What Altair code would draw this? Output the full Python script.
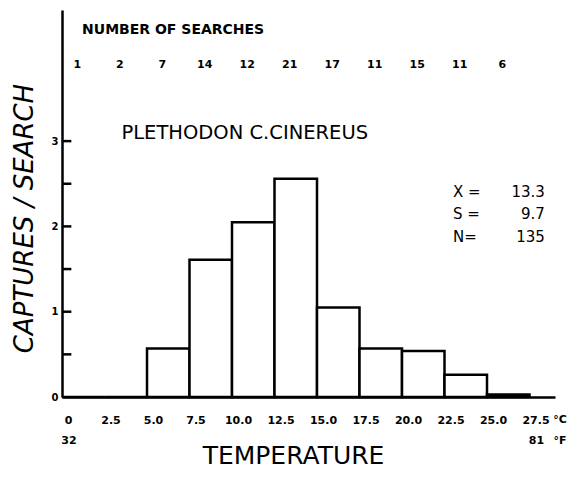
import altair as alt
import pandas as pd

# ---- data ----
bin_lo = [0.0, 2.5, 5.0, 7.5, 10.0, 12.5, 15.0, 17.5, 20.0, 22.5, 25.0]
bin_hi = [2.5, 5.0, 7.5, 10.0, 12.5, 15.0, 17.5, 20.0, 22.5, 25.0, 27.5]
captures_per_search = [0.0, 0.0, 0.57, 1.61, 2.05, 2.56, 1.05, 0.57, 0.54, 0.26, 0.03]
searches = [1, 2, 7, 14, 12, 21, 17, 11, 15, 11, 6]

x_ticks = [0.0, 2.5, 5.0, 7.5, 10.0, 12.5, 15.0, 17.5, 20.0, 22.5, 25.0, 27.5]
y_labels = [0, 1, 2, 3]
y_minor = [0.5, 1.0, 1.5, 2.0, 2.5, 3.0]

f_vals = [0.0, 27.5]
f_text = ["32", "81"]

stat_names = ["X =", "S =", "N="]
stat_vals = ["13.3", "9.7", "135"]

species = "PLETHODON C.CINEREUS"
searches_title = "NUMBER OF SEARCHES"

FONT = "DejaVu Sans"
X_DOMAIN = [0, 29.0]
Y_DOMAIN = [0, 4.537]

bars = pd.DataFrame({"lo": bin_lo, "hi": bin_hi, "v": captures_per_search,
                     "base": [0.0] * len(bin_lo)})
bars["mid"] = (bars["lo"] + bars["hi"]) / 2
bars["n"] = [str(s) for s in searches]

xs = alt.Scale(domain=X_DOMAIN, nice=False, zero=False)
ys = alt.Scale(domain=Y_DOMAIN, nice=False, zero=False)

x_axis = alt.Axis(
    values=x_ticks,
    labelExpr="datum.value == 0 ? '0' : format(datum.value, '.1f')",
    grid=False, ticks=False, tickSize=0,
    domainColor="black", domainWidth=2.5,
    labelFont=FONT, labelFontSize=11, labelFontWeight="bold", labelColor="black",
    labelBaseline="top", labelPadding=17, labelOffset=6, labelFlush=False,
    labelOverlap=False,
    title="TEMPERATURE", titleFont=FONT, titleFontSize=25, titleFontWeight="normal",
    titleColor="black", titleX=231, titleY=66, titleAlign="center",
    titleBaseline="alphabetic", titleAnchor="start",
)
y_axis = alt.Axis(
    values=y_labels, format="d",
    grid=False, ticks=False, tickSize=0,
    domainColor="black", domainWidth=2.5,
    labelFont=FONT, labelFontSize=10, labelFontWeight="bold", labelColor="black",
    labelPadding=4, labelBaseline="middle",
    title="CAPTURES / SEARCH", titleFont=FONT, titleFontSize=26,
    titleFontStyle="italic", titleFontWeight="normal", titleColor="black",
    titleX=-30, titleY=208, titleAlign="center", titleAngle=-90,
    titleBaseline="alphabetic", titleAnchor="start",
)

rect = alt.Chart(bars).mark_rect(fill="white", stroke="black", strokeWidth=2.5).encode(
    x=alt.X("lo:Q", scale=xs, axis=x_axis),
    x2="hi:Q",
    y=alt.Y("v:Q", scale=ys, axis=y_axis),
    y2="base:Q",
)

ticks_df = pd.DataFrame({"y": y_minor, "x0": [0.0] * len(y_minor), "x1": [0.55] * len(y_minor)})
yticks = alt.Chart(ticks_df).mark_rule(color="black", strokeWidth=2.5).encode(
    x=alt.X("x0:Q", scale=xs), x2="x1:Q", y=alt.Y("y:Q", scale=ys)
)

counts = alt.Chart(bars).mark_text(
    font=FONT, fontSize=11, fontWeight="bold", color="black", dx=-6, baseline="middle"
).encode(
    x=alt.X("mid:Q", scale=xs), y=alt.datum(3.89, scale=ys), text="n:N"
)

top_title = alt.Chart(pd.DataFrame({"t": [searches_title]})).mark_text(
    font=FONT, fontSize=14, fontWeight="bold", color="black", align="left", baseline="middle"
).encode(x=alt.datum(1.18, scale=xs), y=alt.datum(4.30, scale=ys), text="t:N")

species_title = alt.Chart(pd.DataFrame({"t": [species]})).mark_text(
    font=FONT, fontSize=19.5, color="black", align="center", baseline="middle"
).encode(x=alt.datum(10.75, scale=xs), y=alt.datum(3.10, scale=ys), text="t:N")

stats = pd.DataFrame({"name": stat_names, "val": stat_vals})
stats["y"] = [2.40, 2.15, 1.87]
stat_lbl = alt.Chart(stats).mark_text(
    font=FONT, fontSize=15, color="black", align="left", baseline="middle"
).encode(x=alt.datum(23.0, scale=xs), y=alt.Y("y:Q", scale=ys), text="name:N")
stat_val = alt.Chart(stats).mark_text(
    font=FONT, fontSize=15, color="black", align="right", baseline="middle"
).encode(x=alt.datum(28.4, scale=xs), y=alt.Y("y:Q", scale=ys), text="val:N")

fdf = pd.DataFrame({"x": f_vals, "t": f_text})
f_lbl = alt.Chart(fdf).mark_text(
    font=FONT, fontSize=11, fontWeight="bold", color="black", dx=7, baseline="middle"
).encode(x=alt.X("x:Q", scale=xs), y=alt.datum(-0.52, scale=ys), text="t:N")

units = pd.DataFrame({"t": ["°C", "°F"], "y": [-0.27, -0.52]})
unit_lbl = alt.Chart(units).mark_text(
    font=FONT, fontSize=11, fontWeight="bold", color="black", align="center", baseline="middle"
).encode(x=alt.datum(29.3, scale=xs), y=alt.Y("y:Q", scale=ys), text="t:N")

chart = alt.layer(
    rect, yticks, counts, top_title, species_title, stat_lbl, stat_val, f_lbl, unit_lbl
).properties(
    width=493, height=387,
    background="white",
    autosize=alt.AutoSizeParams(type="none"),
    padding={"left": 54, "top": 2, "right": 15, "bottom": 72},
).configure_view(strokeWidth=0)

chart.save("out.html", embed_options={"renderer": "svg", "actions": False})
